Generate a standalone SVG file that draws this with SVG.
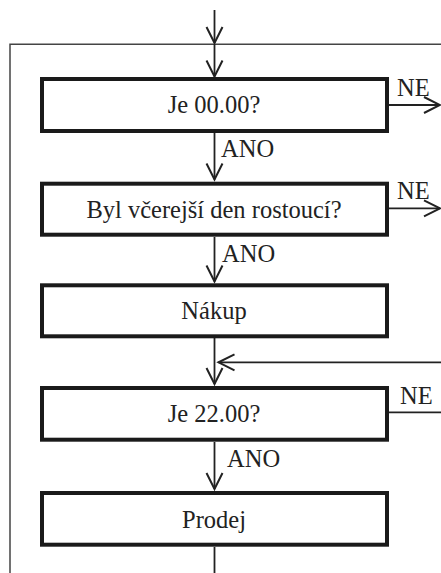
<svg xmlns="http://www.w3.org/2000/svg" width="441" height="573" viewBox="0 0 441 573">
<style>
.box{fill:#fff;stroke:#1a1a1a;stroke-width:4}
.t{font-family:"Liberation Serif","Times New Roman",serif;font-size:24.5px;fill:#222}
.c{text-anchor:middle}
.ln{fill:none;stroke:#222;stroke-width:1.8}
.fr{fill:none;stroke:#444;stroke-width:1.5}
</style>
<defs>
<marker id="arr" markerUnits="userSpaceOnUse" markerWidth="20" markerHeight="20" viewBox="-18 -10 20 20" refX="0" refY="0" orient="auto" overflow="visible">
<path d="M-16,-8 L0,0 L-16,8" fill="none" stroke="#222" stroke-width="2"/>
</marker>
</defs>
<rect width="441" height="573" fill="#fff"/>
<g id="connectors">
<path class="fr" d="M441,44.3 H10 V573"/>
<path class="ln" d="M214.5,10 V43" marker-end="url(#arr)"/>
<path class="ln" d="M214.5,44 V76.5" marker-end="url(#arr)"/>
<path class="ln" d="M214.5,133 V179.5" marker-end="url(#arr)"/>
<path class="ln" d="M214.5,237 V281.5" marker-end="url(#arr)"/>
<path class="ln" d="M214.5,338 V384" marker-end="url(#arr)"/>
<path class="ln" d="M214.5,442 V489" marker-end="url(#arr)"/>
<path class="ln" d="M214.5,547 V573"/>
<path class="ln" d="M389,105 H440" marker-end="url(#arr)"/>
<path class="ln" d="M389,208.3 H440" marker-end="url(#arr)"/>
<path class="ln" d="M389,412.3 H441"/>
<path class="ln" d="M441,362.3 H218.5" marker-end="url(#arr)"/>
<text class="t" x="221" y="157">ANO</text>
<text class="t" x="222" y="261.7">ANO</text>
<text class="t" x="227" y="467">ANO</text>
<text class="t" x="397" y="96">NE</text>
<text class="t" x="397" y="198.5">NE</text>
<text class="t" x="400" y="404">NE</text>
</g>
<g id="node1">
<rect class="box" x="42" y="79" width="345" height="52"/>
<text class="t c" x="214" y="113">Je 00.00?</text>
</g>
<g id="node2">
<rect class="box" x="42" y="183.7" width="345" height="51"/>
<text class="t c" x="214" y="217.5">Byl včerejší den rostoucí?</text>
</g>
<g id="node3">
<rect class="box" x="42" y="285.3" width="345" height="51"/>
<text class="t c" x="214" y="319">Nákup</text>
</g>
<g id="node4">
<rect class="box" x="42" y="388" width="345" height="51.7"/>
<text class="t c" x="214" y="422">Je 22.00?</text>
</g>
<g id="node5">
<rect class="box" x="42" y="493" width="345" height="51.7"/>
<text class="t c" x="214" y="527.5">Prodej</text>
</g>
</svg>
